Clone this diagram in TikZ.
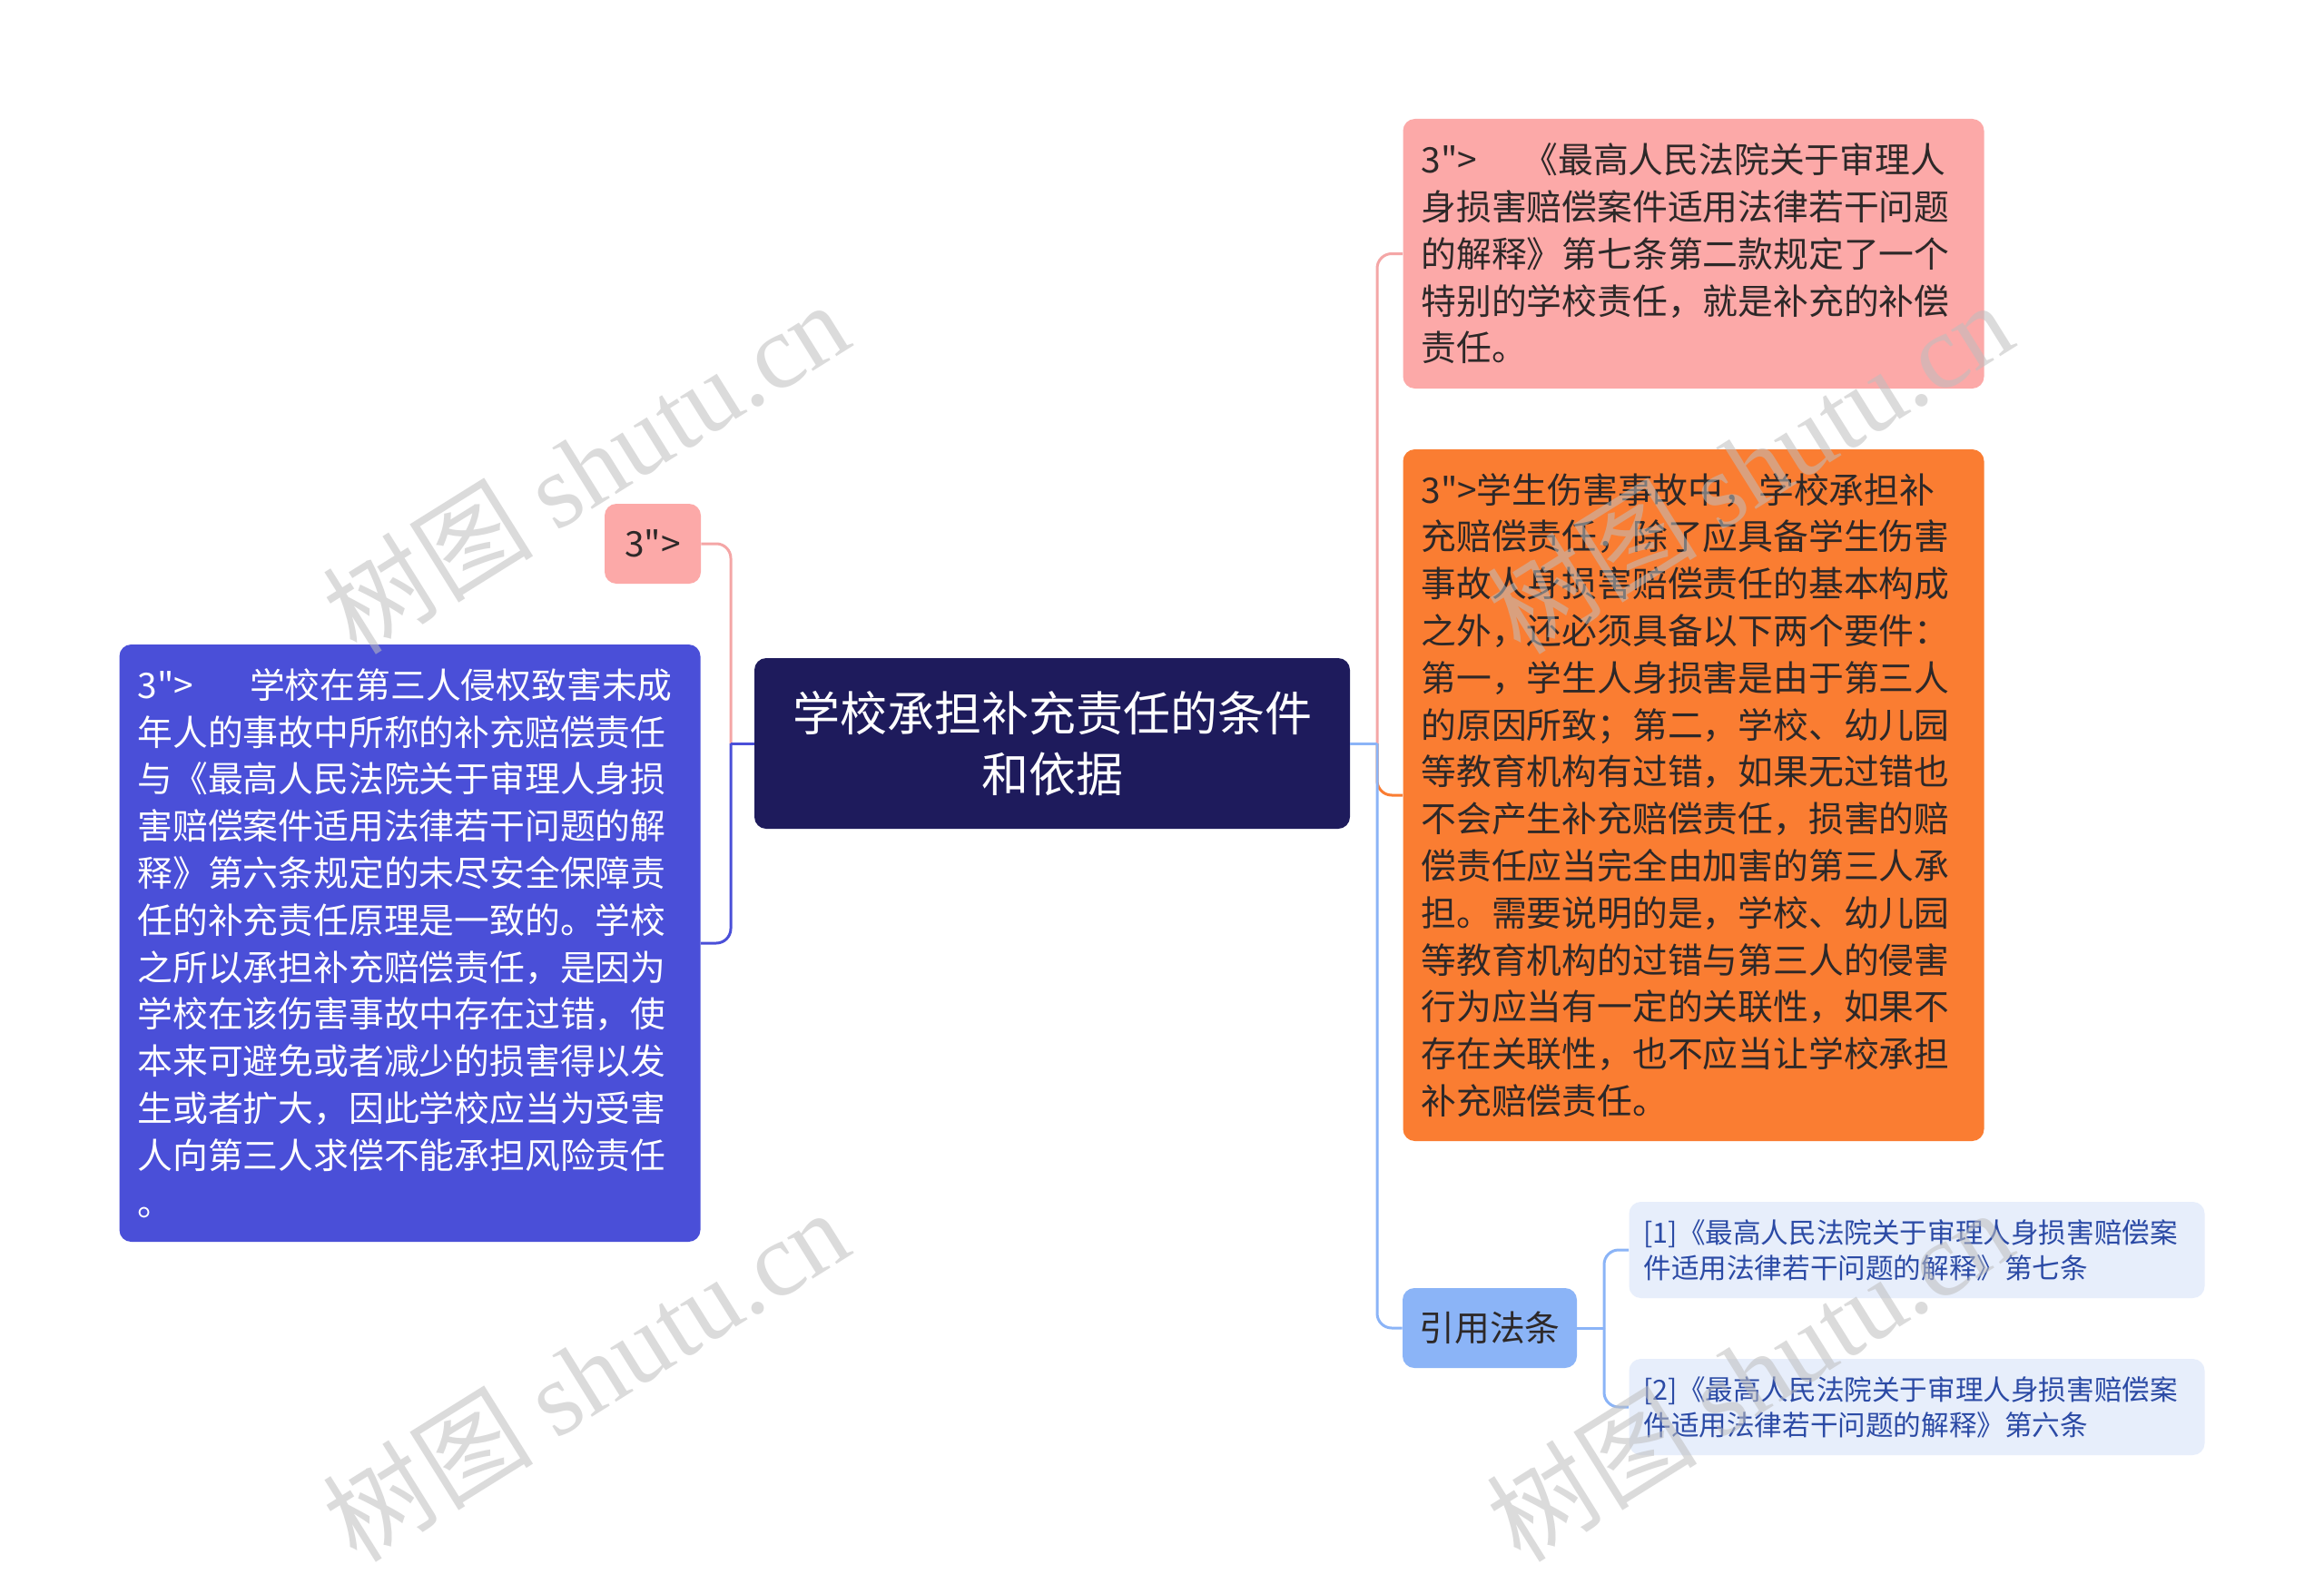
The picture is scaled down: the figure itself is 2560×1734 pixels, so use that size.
\documentclass[tikz,border=0pt]{standalone}
\usepackage{fontspec}
\newfontfamily\cjk{Noto Sans CJK SC}
\newfontfamily\wmserif{Liberation Serif}
\definecolor{rootc}{RGB}{30,27,92}
\definecolor{pinkc}{RGB}{252,169,168}
\definecolor{orangec}{RGB}{250,125,50}
\definecolor{bluec}{RGB}{74,79,216}
\definecolor{citec}{RGB}{139,180,247}
\definecolor{refc}{RGB}{231,238,251}
\definecolor{reftext}{RGB}{43,74,165}
\definecolor{darktext}{RGB}{45,40,40}
\definecolor{pinkline}{RGB}{244,166,166}
\definecolor{wmc}{RGB}{190,190,190}
\tikzset{
  box/.style={rounded corners=6.5pt, inner ysep=0pt, anchor=center},
  bigbox/.style={box, inner xsep=10pt, text width=300pt, align=left,
    font=\cjk\fontsize{19.4pt}{25.9pt}\selectfont},
  refbox/.style={box, fill=refc, text=reftext, inner xsep=8pt, text width=301pt,
    minimum height=53pt, align=left, font=\cjk\fontsize{15.3pt}{19.6pt}\selectfont},
  conn/.style={line width=1.5pt, rounded corners=8pt},
  wm/.style={text=wmc, opacity=0.55, rotate=32, font=\cjk\fontsize{58pt}{60pt}\selectfont},
}
\begin{document}
\begin{tikzpicture}[x=0.5pt,y=-0.5pt]
\useasboundingbox (0,0) rectangle (2560,1734);
\fill[white] (0,0) rectangle (2560,1734);

% nodes
\node[box, fill=rootc, text=white, minimum width=328pt, minimum height=94pt,
  text width=300pt, align=center, font=\cjk\fontsize{26pt}{33.5pt}\selectfont]
  (root) at (1159,819) {学校承担补充责任的条件\\和依据};

\node[bigbox, fill=pinkc, text=darktext, minimum height=148.5pt] (ptop) at (1865.5,279.5)
 {3">\hspace{1.3em}《最高人民法院关于审理人\\
身损害赔偿案件适用法律若干问题\\
的解释》第七条第二款规定了一个\\
特别的学校责任，就是补充的补偿\\
责任。};

\node[bigbox, fill=orangec, text=darktext, minimum height=381pt] (orng) at (1865.5,876)
 {3">学生伤害事故中，学校承担补\\
充赔偿责任，除了应具备学生伤害\\
事故人身损害赔偿责任的基本构成\\
之外，还必须具备以下两个要件：\\
第一，学生人身损害是由于第三人\\
的原因所致；第二，学校、幼儿园\\
等教育机构有过错，如果无过错也\\
不会产生补充赔偿责任，损害的赔\\
偿责任应当完全由加害的第三人承\\
担。需要说明的是，学校、幼儿园\\
等教育机构的过错与第三人的侵害\\
行为应当有一定的关联性，如果不\\
存在关联性，也不应当让学校承担\\
补充赔偿责任。};

\node[box, fill=citec, text=darktext, minimum width=96pt, minimum height=44pt,
  font=\cjk\fontsize{19.4pt}{25.9pt}\selectfont] (cite) at (1641,1463) {引用法条};

\node[refbox] (ref1) at (2111.5,1377)
 {[1]《最高人民法院关于审理人身损害赔偿案\\件适用法律若干问题的解释》第七条};
\node[refbox] (ref2) at (2111.5,1550)
 {[2]《最高人民法院关于审理人身损害赔偿案\\件适用法律若干问题的解释》第六条};

\node[box, fill=pinkc, text=darktext, minimum width=53pt, minimum height=44pt,
  font=\cjk\fontsize{19.4pt}{25.9pt}\selectfont] (psmall) at (719,599) {3">};

\node[bigbox, fill=bluec, text=white, minimum height=329pt] (blue) at (451.5,1039)
 {3">\hspace{1.6em}学校在第三人侵权致害未成\\
年人的事故中所称的补充赔偿责任\\
与《最高人民法院关于审理人身损\\
害赔偿案件适用法律若干问题的解\\
释》第六条规定的未尽安全保障责\\
任的补充责任原理是一致的。学校\\
之所以承担补充赔偿责任，是因为\\
学校在该伤害事故中存在过错，使\\
本来可避免或者减少的损害得以发\\
生或者扩大，因此学校应当为受害\\
人向第三人求偿不能承担风险责任\\
。};

% junctions
\coordinate (jl) at (805,819);
\coordinate (jr) at (1517,819);
\coordinate (jc) at (1767,1463);

% connectors left
\draw[conn, pinkline] (jl) |- (psmall.east);
\draw[conn, bluec] (jl) |- (blue.east);
\draw[conn, bluec] (root.west) -- (jl);

% connectors right
\draw[conn, pinkline] (jr) |- (ptop.west);
\draw[conn, orangec] (jr) |- (orng.west);
\draw[conn, citec] (jr) |- (cite.west);
\draw[conn, citec] (root.east) -- (jr);
\draw[conn, citec] (cite.east) -- (jc);
\draw[conn, citec] (jc) |- (ref1.west);
\draw[conn, citec] (jc) |- (ref2.west);

% watermarks
\node[wm] (wm1) at (645,514) {树图 {\wmserif shutu.cn}};
\node[wm] (wm2) at (645,1514) {树图 {\wmserif shutu.cn}};
\node[wm] (wm3) at (1927,514) {树图 {\wmserif shutu.cn}};
\node[wm] (wm4) at (1927,1514) {树图 {\wmserif shutu.cn}};
\end{tikzpicture}
\end{document}
